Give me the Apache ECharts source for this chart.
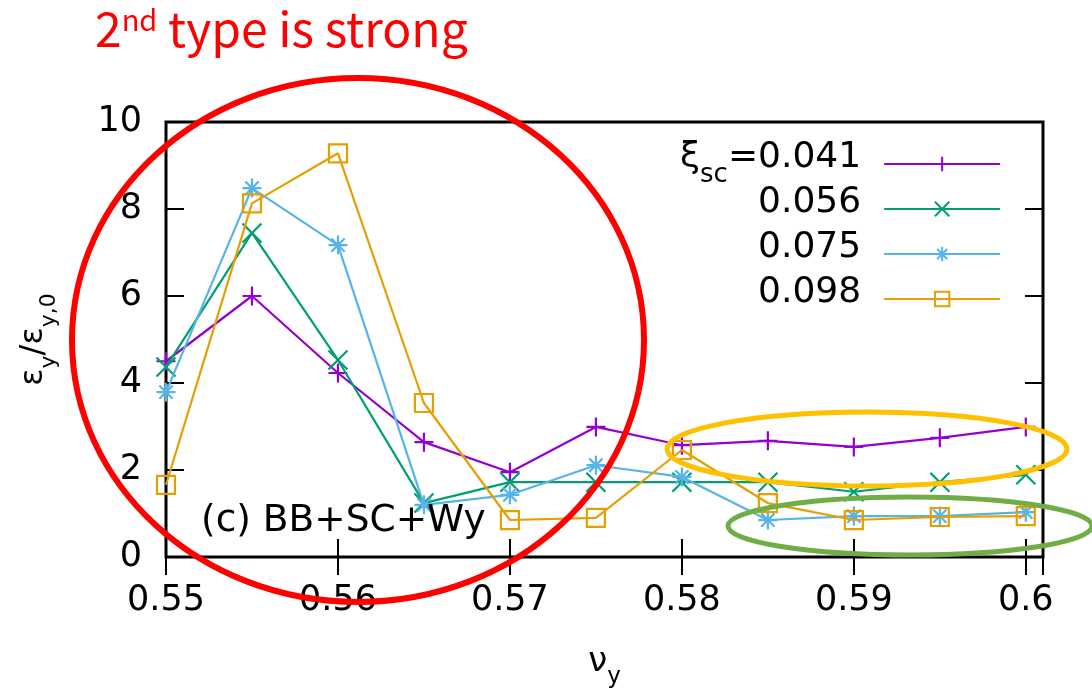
<!DOCTYPE html>
<html>
<head>
<meta charset="utf-8">
<script src="https://cdn.jsdelivr.net/npm/echarts@6/dist/echarts.min.js"></script>
<style>html,body{margin:0;padding:0;background:#fff}#c{width:1092px;height:700px}</style>
</head>
<body>
<div id="c"></div>
<script>
const nuY = [0.55, 0.555, 0.56, 0.565, 0.57, 0.575, 0.58, 0.585, 0.59, 0.595, 0.6];
const seriesNames = ['0.041', '0.056', '0.075', '0.098'];
const xi041 = [4.5, 6.0, 4.23, 2.64, 1.95, 2.99, 2.57, 2.67, 2.53, 2.74, 2.99];
const xi056 = [4.37, 7.45, 4.53, 1.24, 1.72, 1.72, 1.72, 1.72, 1.5, 1.72, 1.89];
const xi075 = [3.79, 8.48, 7.17, 1.2, 1.43, 2.11, 1.84, 0.85, 0.94, 0.94, 1.03];
const xi098 = [1.66, 8.13, 9.28, 3.54, 0.85, 0.9, 2.46, 1.24, 0.85, 0.92, 0.94];
const yTicks = [0, 2, 4, 6, 8, 10];

const colors = ['#9400d3', '#009e73', '#56b4e9', '#e69f00'];
const symbols = [
  'path://M5,0L5,10M0,5L10,5',
  'path://M0,0L10,10M10,0L0,10',
  'path://M5,0L5,10M0,5L10,5M1.5,1.5L8.5,8.5M8.5,1.5L1.5,8.5',
  'path://M0,0L10,0L10,10L0,10Z'
];
const allData = [xi041, xi056, xi075, xi098];
const FONT = 'DejaVu Sans';

const chart = echarts.init(document.getElementById('c'));
const series = allData.map((vals, i) => ({
  name: seriesNames[i],
  type: 'line',
  data: vals.map((v, j) => [nuY[j], v]),
  symbol: symbols[i],
  symbolSize: i === 3 ? 18 : 19,
  symbolKeepAspect: true,
  showAllSymbol: true,
  lineStyle: { color: colors[i], width: 2.2 },
  itemStyle: { color: i === 3 ? 'rgba(0,0,0,0)' : colors[i], borderColor: colors[i], borderWidth: 2.2 },
  emphasis: { disabled: true },
  animation: false,
  z: 2 + i
}));

const axisTickStyle = { show: true, inside: true, length: 18, lineStyle: { color: '#000', width: 2 } };

chart.setOption({
  animation: false,
  grid: { left: 166, right: 49, top: 122, bottom: 143, show: true, borderColor: '#000', borderWidth: 3, backgroundColor: 'transparent' },
  xAxis: [{
    type: 'value', min: 0.55, max: 0.601, interval: 0.01,
    axisLine: { show: false }, splitLine: { show: false },
    axisTick: axisTickStyle,
    axisLabel: {
      color: '#000', fontSize: 35, fontFamily: FONT, margin: 26,
      showMaxLabel: false,
      formatter: v => Math.abs(v * 100 - Math.round(v * 100)) > 1e-6 ? '' : String(+v.toFixed(3))
    },
    name: '{e|ν}{s|y}', nameLocation: 'middle', nameGap: 88,
    nameTextStyle: { rich: {
      e: { fontSize: 34, fontFamily: FONT, color: '#000', lineHeight: 40, verticalAlign: 'top' },
      s: { fontSize: 23, fontFamily: FONT, color: '#000', lineHeight: 23, padding: [21, 0, 0, 0], verticalAlign: 'top' }
    } }
  }, {
    type: 'value', position: 'top', min: 0.55, max: 0.601, interval: 0.01,
    axisLine: { show: false }, splitLine: { show: false },
    axisTick: axisTickStyle, axisLabel: { show: false }
  }],
  yAxis: [{
    type: 'value', min: yTicks[0], max: yTicks[yTicks.length - 1], interval: 2,
    axisLine: { show: false }, splitLine: { show: false },
    axisTick: axisTickStyle,
    axisLabel: { color: '#000', fontSize: 35, fontFamily: FONT, margin: 24 },
    name: '{e|ε}{s|y}{e|/ε}{s|y,0}', nameLocation: 'middle', nameGap: 110, nameRotate: 90,
    nameTextStyle: { rich: {
      e: { fontSize: 32, fontFamily: FONT, color: '#000', lineHeight: 38, verticalAlign: 'top' },
      s: { fontSize: 22, fontFamily: FONT, color: '#000', lineHeight: 22, padding: [20, 0, 0, 0], verticalAlign: 'top' }
    } }
  }, {
    type: 'value', position: 'right', min: yTicks[0], max: yTicks[yTicks.length - 1], interval: 2,
    axisLine: { show: false }, splitLine: { show: false },
    axisTick: axisTickStyle, axisLabel: { show: false }
  }],
  legend: {
    orient: 'vertical', left: 675, top: 135, align: 'right',
    itemWidth: 116, itemHeight: 18, itemGap: -3,
    data: seriesNames,
    formatter: name => name === '0.041' ? '{n|ξ}{s|sc}{m|=0.041}' : '{s|\u200b}{m|' + name + '}',
    textStyle: { rich: {
      n: { fontSize: 36, fontFamily: FONT, color: '#000', lineHeight: 48, verticalAlign: 'top' },
      m: { fontSize: 36, fontFamily: FONT, color: '#000', lineHeight: 48, verticalAlign: 'top', padding: [0, 18, 0, 0] },
      s: { fontSize: 26, fontFamily: FONT, color: '#000', lineHeight: 26, padding: [22, 0, 0, 0], verticalAlign: 'top' }
    } }
  },
  series: series,
  graphic: [
    { type: 'text', left: 95, top: 5, z: 100,
      style: { text: '{a|2}{b|nd}{a| type is strong}', rich: {
        a: { fontSize: 48, fontFamily: 'Noto Sans CJK JP', fill: '#ff0000', lineHeight: 58, verticalAlign: 'top' },
        b: { fontSize: 29, fontFamily: 'Noto Sans CJK JP', fill: '#ff0000', lineHeight: 36, verticalAlign: 'top' }
      } } },
    { type: 'text', left: 201, top: 502, z: 100,
      style: { text: '(c) BB+SC+Wy', fontSize: 37.5, fontFamily: FONT, fill: '#000' } },
    { type: 'ellipse', z: 100, shape: { cx: 358, cy: 340, rx: 286, ry: 262 },
      style: { fill: 'none', stroke: '#ff0000', lineWidth: 6 } },
    { type: 'ellipse', z: 100, shape: { cx: 867, cy: 449, rx: 200, ry: 37 },
      style: { fill: 'none', stroke: '#ffc000', lineWidth: 5 } },
    { type: 'ellipse', z: 100, shape: { cx: 910, cy: 526, rx: 182, ry: 29 },
      style: { fill: 'none', stroke: '#70ad47', lineWidth: 5 } }
  ]
});
</script>
</body>
</html>
